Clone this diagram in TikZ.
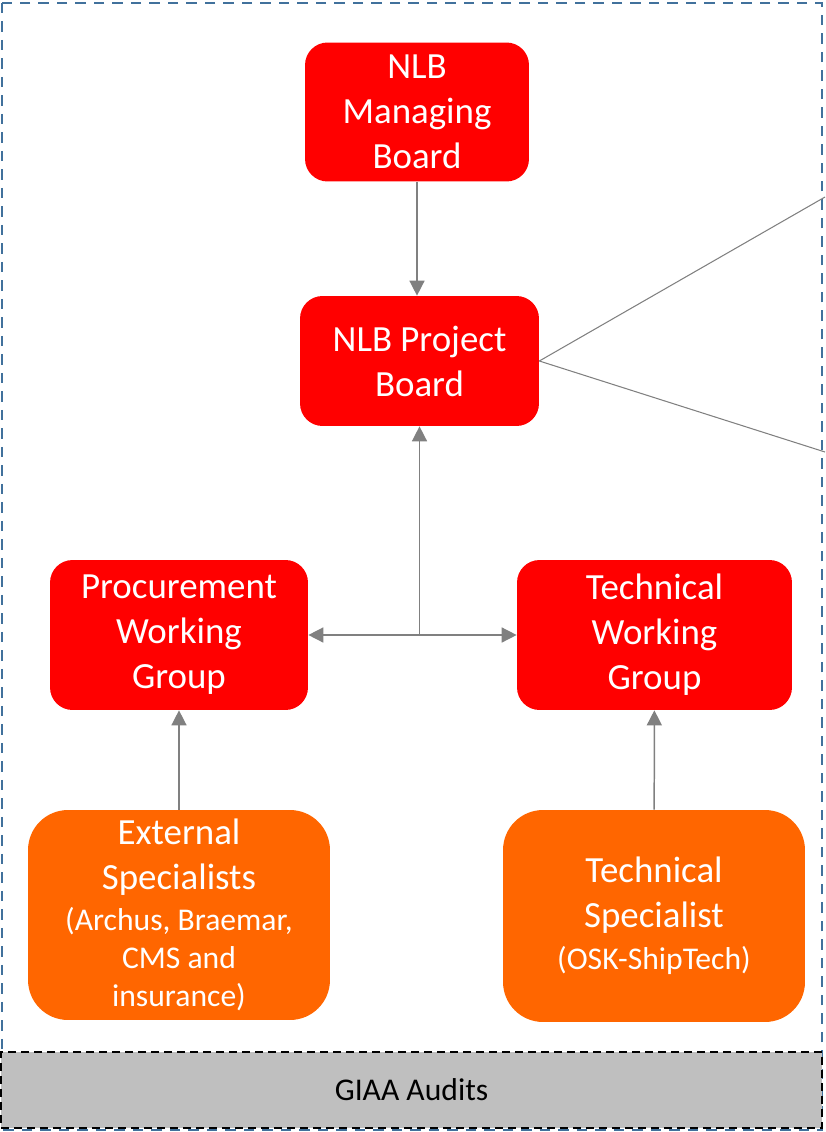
\documentclass[tikz,border=0pt]{standalone}
\usepackage{fontspec}
\setmainfont{Carlito}
\usetikzlibrary{arrows.meta}

\newcommand{\detailfont}{\fontsize{18}{21.6}\selectfont}

\begin{document}
\begin{tikzpicture}[x=0.02cm, y=-0.02cm,
  board/.style={fill=BoardRed, text=white, rounded corners=0.45cm, align=center,
    inner sep=0pt, font=\fontsize{21}{25.6}\selectfont},
  expert/.style={fill=ExpertOrange, text=white, rounded corners=0.8cm, align=center,
    inner sep=0pt, minimum width=6.04cm, font=\fontsize{21}{25.6}\selectfont},
  link/.style={draw=LinkGrey, line width=0.85pt, -{Triangle[length=0.3cm,width=0.3cm]}}]


\colorlet{BoardRed}{red}
\definecolor{ExpertOrange}{HTML}{FF6600}
\definecolor{LinkGrey}{HTML}{808080}
\definecolor{FrameBlue}{HTML}{41719C}
\definecolor{AuditGrey}{HTML}{BFBFBF}

\useasboundingbox (0,0) rectangle (825,1132);

% Outer frame
\draw[FrameBlue, line width=1.1pt, dash pattern=on 0.21cm off 0.16cm] (2,3) rectangle (822,1130);

% Boards
\node[board, minimum width=4.48cm, minimum height=2.78cm] (managing) at (417,112) {NLB\\Managing\\Board};
\node[board, minimum width=4.78cm, minimum height=2.6cm] (project) at (419.5,361) {NLB Project\\Board};
\node[board, minimum width=5.16cm, minimum height=3cm] (procurement) at (179,635) {Procurement\\Working\\Group};
\node[board, minimum width=5.5cm, minimum height=3cm] (technical) at (654.5,635) {Technical\\Working\\Group};

% Specialists
\node[expert, minimum height=4.2cm] (external) at (179,915)
  {External\\Specialists\\[-2.4pt]{\detailfont (Archus, Braemar,}\\[-4pt]{\detailfont CMS and}\\[-4pt]{\detailfont insurance)}};
\node[expert, minimum height=4.24cm] (techspec) at (654,916)
  {Technical\\Specialist\\[-1.8pt]{\detailfont (OSK-ShipTech)}};

% Audits
\node[draw=black, fill=AuditGrey, line width=1.1pt, dash pattern=on 0.16cm off 0.1cm,
  minimum width=16.42cm, minimum height=1.52cm, font=\detailfont] (audits) at (411.5,1090) {GIAA Audits};

% Arrows
\coordinate (split) at (project.south |- procurement.east);
\draw[link] (managing.south) -- (managing.south |- project.north);
\draw[link] (split) -- (project.south);
\draw[link] (split) -- (procurement.east);
\draw[link] (split) -- (technical.west);
\draw[link] (external) -- (procurement);
\draw[link] (techspec) -- (technical);

% Lines leaving the frame
\coordinate (upper) at (825,197);
\coordinate (lower) at (825,452);
\draw[LinkGrey, line width=0.6pt] (project.east) -- (upper);
\draw[LinkGrey, line width=0.6pt] (project.east) -- (lower);


\end{tikzpicture}
\end{document}
